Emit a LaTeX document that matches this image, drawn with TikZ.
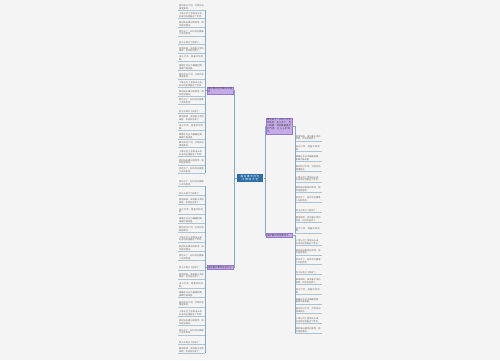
\documentclass[tikz,border=0pt]{standalone}
\usepackage{fontspec}
\newfontfamily\cjk{Noto Sans CJK SC}
\XeTeXlinebreaklocale "zh"
\XeTeXlinebreakskip = 0pt plus 1pt
\usetikzlibrary{positioning,calc}
\definecolor{bgcol}{HTML}{F4F4F4}
\definecolor{topic}{HTML}{2F6CA3}
\definecolor{branch}{HTML}{C4AAE8}
\definecolor{branchline}{HTML}{9A78CF}
\definecolor{linkcol}{HTML}{86A9C6}
\definecolor{leaftxt}{HTML}{707070}
\tikzset{
	link/.style={draw=linkcol,line width=0.6pt},
	leafline/.style={draw=linkcol!70,line width=0.35pt},
	topicbox/.style={fill=topic,text=white,font=\cjk\fontsize{2.6}{3.1}\selectfont,text width=25pt,align=center,inner sep=0.8pt},
	branchbox/.style={fill=branch,draw=branchline,line width=0.4pt,text=black!75,font=\cjk\fontsize{2.4}{3}\selectfont,text width=24pt,align=left,inner sep=0.8pt},
	leaf/.style={text=leaftxt,font=\cjk\fontsize{2.2}{2.8}\selectfont,text width=25pt,align=left,inner sep=0.6pt}
}
\newcommand\leafsent[1]{\ifcase#1
	春风吹过大地，万物开始慢慢复苏。\or
	小草从泥土里探出头来，好奇地张望着这个世界。\or
	柳树抽出嫩绿的新芽，随风轻轻摆动。\or
	桃花开了，粉红的花瓣像少女的脸庞。\or
	燕子从南方飞回来了。\or
	春雨绵绵，滋润着干渴的田野，农民伯伯笑了。\or
	溪水叮咚，唱着欢快的歌。\or
	蝴蝶在花丛中翩翩起舞，蜜蜂忙着采蜜。\fi}

\begin{document}
\begin{tikzpicture}[x=1pt,y=-1pt]
\useasboundingbox (0,0) rectangle (500,360);
\fill[bgcol] (0,0) rectangle (500,360);

%Centre
\node[topicbox] (C) at (250,178) {描写春天的句子精选大全};

%Branches
\node[branchbox] (L1) at (220,90.5) {描写春天的优美句子摘抄};
\node[branchbox] (L2) at (220,267.5) {描写春天景色的好句子};
\node[branchbox] (R1) at (279,126) {春天来了，大地一片生机勃勃，花儿开了，鸟儿唱歌，到处都是春天的气息，让人心旷神怡。};
\node[branchbox] (R2) at (279,235.5) {描写春天的经典句子};

\coordinate (cl) at (234,178);
\coordinate (cr) at (265,178);
\draw[link] (C.west) -- (cl) |- (L1.east);
\draw[link] (cl) |- (L2.east);
\draw[link] (C.east) -- (cr) |- (R1.west);
\draw[link] (cr) |- (R2.west);

%Leaves, left
\foreach \i in {0,...,19}{
	\pgfmathsetmacro\yy{10+\i*8.6}
	\pgfmathtruncatemacro\k{mod(\i,8)}
	\node[leaf,anchor=south east] (la\i) at (205,\yy) {\leafsent{\k}};
	\draw[link] (L1.west) -| (la\i.south east);
	\draw[leafline] (la\i.south west) -- (la\i.south east);
}
\foreach \i in {0,...,18}{
	\pgfmathsetmacro\yy{186+\i*9.3}
	\pgfmathtruncatemacro\k{mod(\i+3,8)}
	\node[leaf,anchor=south east] (lb\i) at (205,\yy) {\leafsent{\k}};
	\draw[link] (L2.west) -| (lb\i.south east);
	\draw[leafline] (lb\i.south west) -- (lb\i.south east);
}

%Leaves, right
\foreach \i in {0,...,9}{
	\pgfmathsetmacro\yy{141+\i*10.2}
	\pgfmathtruncatemacro\k{mod(\i+5,8)}
	\node[leaf,anchor=south west] (ra\i) at (295,\yy) {\leafsent{\k}};
	\draw[link] (R1.east) -| (ra\i.south west);
	\draw[leafline] (ra\i.south west) -- (ra\i.south east);
}
\foreach \i in {0,...,9}{
	\pgfmathsetmacro\yy{245+\i*9.8}
	\pgfmathtruncatemacro\k{mod(\i+1,8)}
	\node[leaf,anchor=south west] (rb\i) at (295,\yy) {\leafsent{\k}};
	\draw[link] (R2.east) -| (rb\i.south west);
	\draw[leafline] (rb\i.south west) -- (rb\i.south east);
}
\end{tikzpicture}
\end{document}
